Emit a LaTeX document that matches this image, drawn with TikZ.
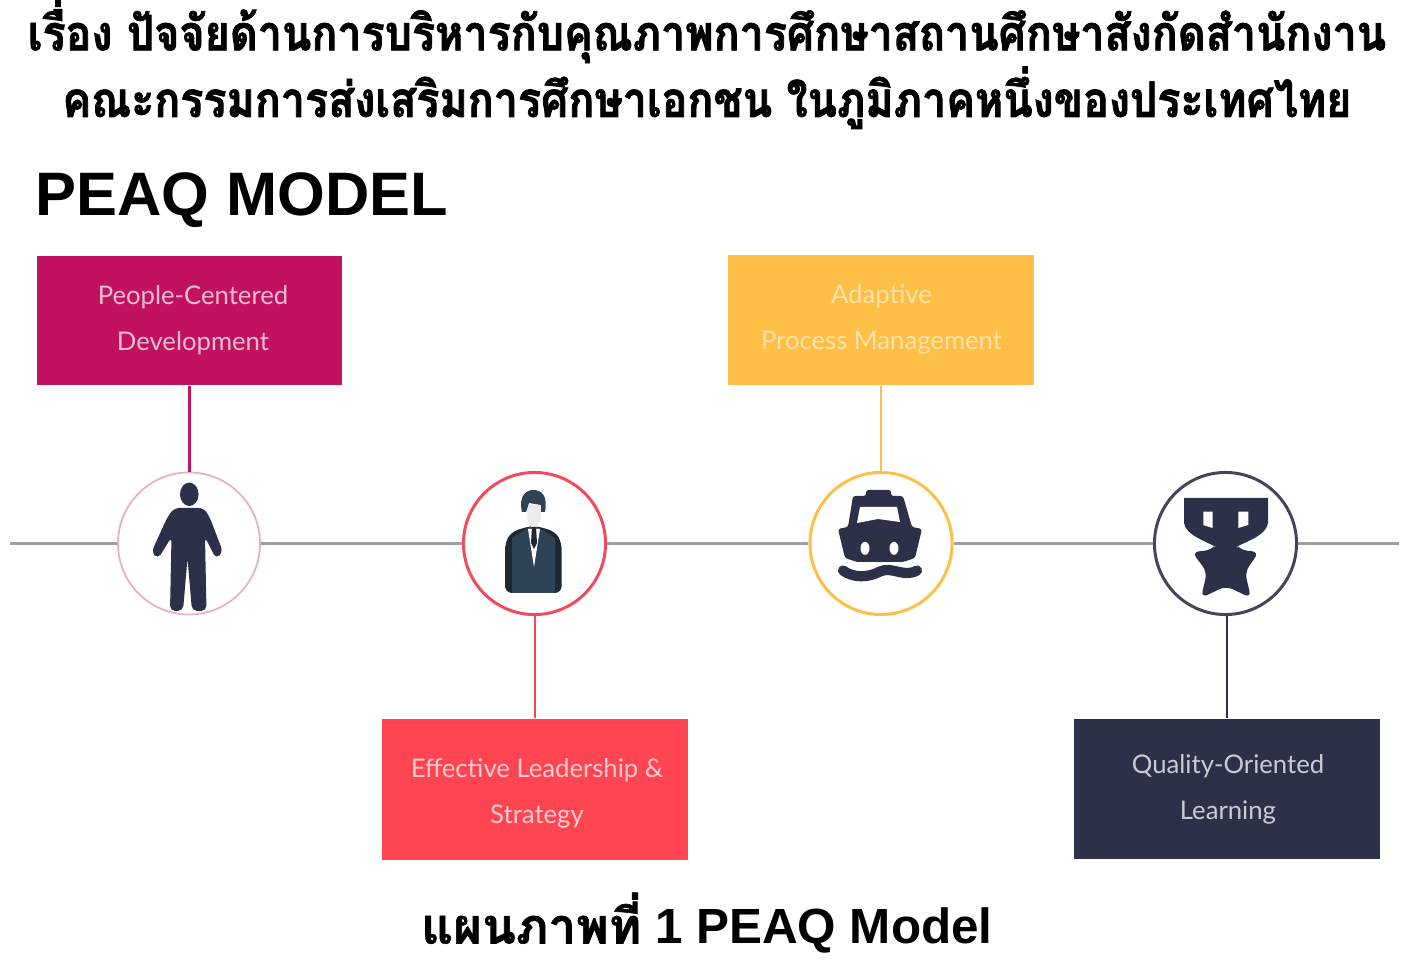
\documentclass[tikz,border=0pt]{standalone}
\usepackage{fontspec}
\setmainfont{Liberation Sans}
\newfontfamily\thaifont[Script=Thai,BoldFont=Loma Bold,BoldFeatures={FakeBold=1.2}]{Loma}
\newfontfamily\thaiwide[Script=Thai,FakeStretch=0.88,BoldFont=Loma Bold,BoldFeatures={FakeBold=1.6}]{Loma}
\newfontfamily\boxfont{Lato}
\usetikzlibrary{positioning}

\definecolor{peaqpink}{HTML}{C2125F}
\definecolor{peaqred}{HTML}{FF4552}
\definecolor{peaqamber}{HTML}{FFBF47}
\definecolor{peaqnavy}{HTML}{2D3049}
\definecolor{peaqsuit}{HTML}{2F4356}
\definecolor{peaqdark}{HTML}{1D2A35}

\tikzset{
	hub/.style={circle,draw=#1,fill=white,line width=0.85pt,minimum size=1.42cm,inner sep=0pt},
	panel/.style={fill=#1,minimum width=3.05cm,inner sep=0pt},
	blurb/.style={align=center,inner sep=0pt,font=\boxfont\fontsize{7.3}{13.1}\selectfont},
	spine/.style={draw=gray!75,line width=1pt},
	stem/.style={draw=#1,line width=0.7pt},
	icon/.style={fill=peaqnavy,rounded corners=1.5pt},
	hole/.style={fill=white}
}

\begin{document}
\begin{tikzpicture}[x=0.01cm,y=-0.01cm]
\useasboundingbox (0,0) rectangle (1414,970);

%HEADINGS
\node (title) at (707,64.5) [align=center,font=\thaiwide\bfseries\fontsize{13.9}{17}\selectfont]
	{เรื่อง ปัจจัยด้านการบริหารกับคุณภาพการศึกษาสถานศึกษาสังกัดสำนักงาน\\
	คณะกรรมการส่งเสริมการศึกษาเอกชน ในภูมิภาคหนึ่งของประเทศไทย};
\node (model) at (35,200) [anchor=west,inner sep=0pt,font=\bfseries\fontsize{17.45}{18}\selectfont] {PEAQ MODEL};
\node (caption) at (707,923) [inner sep=0pt,font=\bfseries\fontsize{14.05}{15}\selectfont] {{\thaifont แผนภาพที่} 1 PEAQ Model};

%PANELS
\node (people) at (189.5,320.5) [panel=peaqpink,minimum height=1.29cm] {};
\node (leader) at (535,789.5) [panel=peaqred,minimum height=1.41cm] {};
\node (process) at (881,320) [panel=peaqamber,minimum height=1.30cm] {};
\node (quality) at (1227,789) [panel=peaqnavy,minimum height=1.40cm] {};
\node (peopletext) at (193,320.5) [blurb,text=white!72!peaqpink] {People-Centered\\Development};
\node (leadertext) at (537,793.5) [blurb,text=white!72!peaqred] {Effective Leadership \&\\Strategy};
\node (processtext) at (881.5,319.5) [blurb,text=white!55!peaqamber] {Adaptive\\Process Management};
\node (qualitytext) at (1228,789.5) [blurb,text=white!75!peaqnavy] {Quality-Oriented\\Learning};

%CIRCLES
\node (peoplehub) at (189,543.5) [hub=peaqpink!35,line width=0.5pt] {};
\node (leaderhub) at (534.5,543.5) [hub=peaqred!90!gray] {};
\node (processhub) at (881,543.5) [hub=peaqamber] {};
\node (qualityhub) at (1225.5,543.5) [hub=peaqnavy!90] {};

%Spine
\coordinate (spinestart) at (10,543.5);
\coordinate (spineend) at (1399,543.5);
\foreach \a/\b in {spinestart/peoplehub,peoplehub/leaderhub,leaderhub/processhub,processhub/qualityhub,qualityhub/spineend}
{
\draw [spine] (\a) -- (\b);
}

%Stems
\draw [stem=peaqpink] (people) -- (people |- peoplehub.north);
\draw [stem=peaqred] (leader) -- (leader |- leaderhub.south);
\draw [stem=peaqamber] (process) -- (processhub);
\draw [stem=peaqnavy] (quality) -- (quality |- qualityhub.south);

%ICONS
%Person
\fill [peaqnavy] (189.3,494.3) ellipse (9.3 and 11.7);
\fill [icon] (174,508) -- (204,508) -- (210,518) -- (223,552) -- (216,559) -- (205,537)
	-- (206.5,611) -- (192,611) -- (187.5,558) -- (183,611) -- (170,611)
	-- (171.5,537) -- (158,559) -- (151.5,552) -- (167,518) -- cycle;

%Suit
\fill [peaqdark,rounded corners=2pt] (505,593) -- (505,543) -- (511,532) -- (530,526) -- (537,526) -- (556,532) -- (561.7,543) -- (561.7,593) -- cycle;
\fill [peaqsuit] (512,593) -- (512,538) -- (530,527) -- (537,527) -- (555,538) -- (555,593) -- cycle;
\fill [gray!15] (526,505) -- (541,505) -- (541,518) -- (537,527) -- (531,527) -- (527,518) -- cycle;
\fill [peaqsuit] (522,512) .. controls (518,494) and (528,490) .. (533,490) .. controls (542,490) and (548,496) .. (545,512)
	-- (541,512) -- (541,505) -- (529,503) -- (526,512) -- cycle;
\fill [white] (528,529) -- (540,529) -- (534,567) -- cycle;
\fill [peaqdark] (532,527) -- (536,527) -- (537,543) -- (534,549) -- (531,543) -- cycle;

%Boat
\fill [icon,rounded corners=0.7pt] (866,490) -- (891,490) -- (891,496) -- (903,496) -- (912,527) -- (922,529) -- (915,558) -- (903,562)
	-- (857,562) -- (845,558) -- (838,529) -- (848,527) -- (853,496) -- (866,496) -- cycle;
\fill [hole] (860,507) -- (897,507) -- (900,522) -- (878,519) -- (857,523) -- cycle;
\fill [hole] (865,548.3) ellipse (4.5 and 6.5);
\fill [hole] (894,548.3) ellipse (4.5 and 6.5);
\draw [peaqnavy,line width=2.9pt,line cap=round] (843,570.5) .. controls (853,578) and (868,578) .. (880,571.5) .. controls (892,566) and (904,578) .. (917,570.5);

%Trophy
\fill [peaqnavy] (1184,498) -- (1268,498) -- (1268,523) .. controls (1266,535) and (1250,540) .. (1236,547)
	-- (1216,547) .. controls (1203,540) and (1186,535) .. (1184,523) -- cycle;
\fill [icon,rounded corners=2pt] (1236,544) -- (1240,550) -- (1259,552) -- (1245,572) -- (1251,598) -- (1226,586)
	-- (1201,598) -- (1207,572) -- (1192,552) -- (1212,550) -- (1216,544) -- cycle;
\fill [hole] (1203.3,511.7) -- (1212.7,511.7) -- (1212.7,528) -- (1203.3,525) -- cycle;
\fill [hole] (1238.3,511.7) -- (1248.3,511.7) -- (1248.3,525) -- (1238.3,528) -- cycle;

\end{tikzpicture}
\end{document}
